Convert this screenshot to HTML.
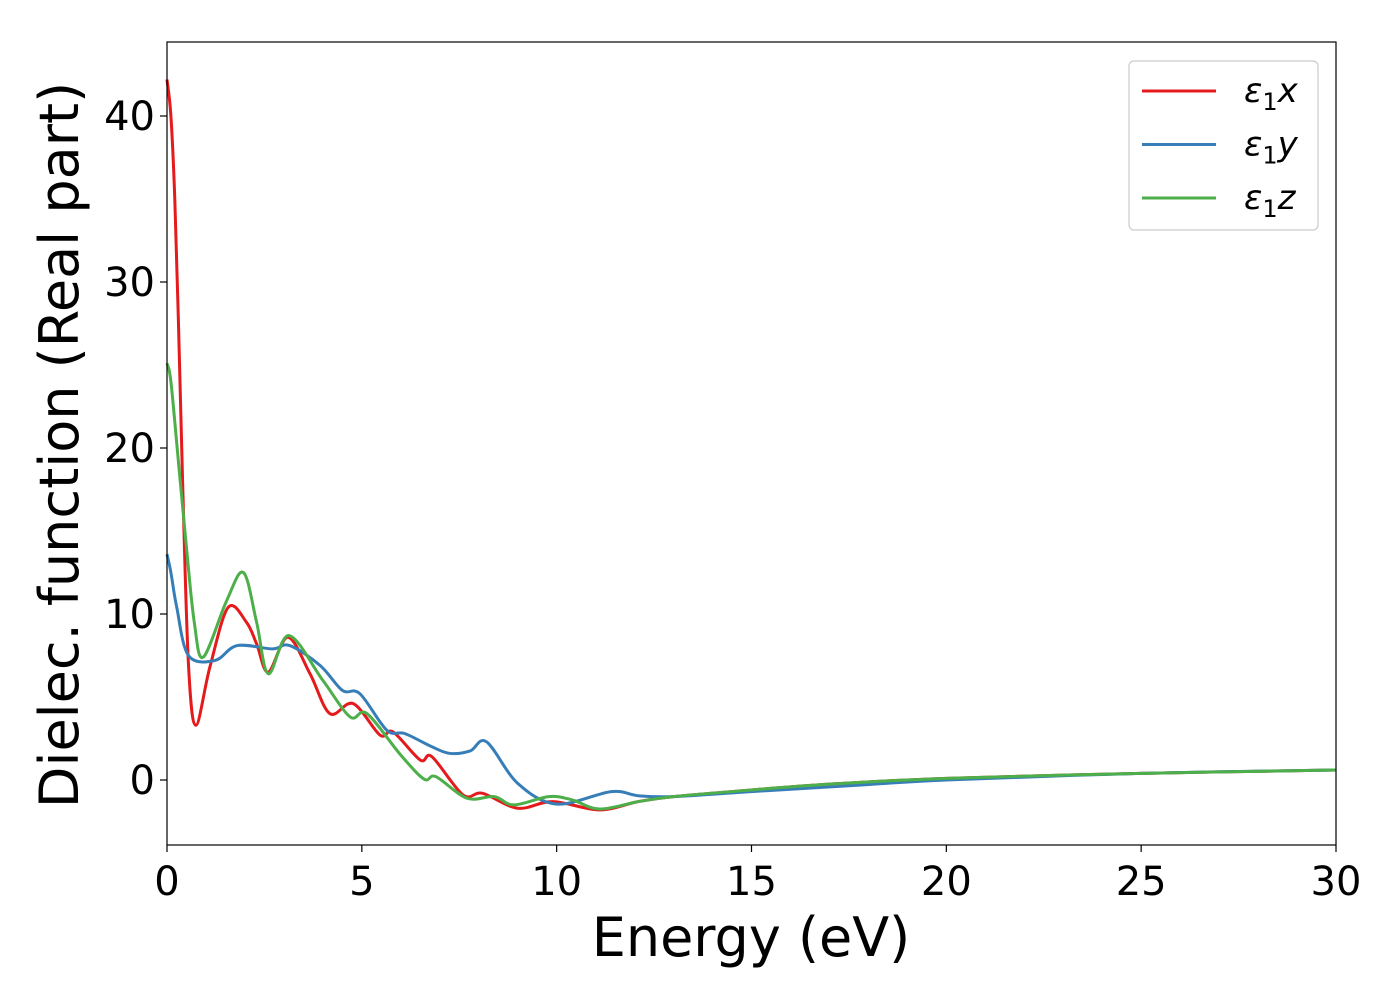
<!DOCTYPE html>
<html><head><meta charset="utf-8"><style>
body{margin:0;background:#fff}
svg{font-family:"DejaVu Sans","Liberation Sans",sans-serif}
</style></head><body>
<svg id="chart" width="1400" height="1000" xmlns="http://www.w3.org/2000/svg">
<rect width="1400" height="1000" fill="#fff"/>
<g id="plot"></g>
<g id="axes"></g>
</svg>
<script>
const seriesNames=["ε1x","ε1y","ε1z"];
const seriesColors=["#e41a1c","#377eb8","#4daf4a"];
const xTicks=[0,5,10,15,20,25,30];
const yTicks=[0,10,20,30,40];
const redX=[0,0.1,0.2,0.3,0.4,0.55,0.74,1.1,1.57,2.04,2.3,2.6,3.1,3.67,4.18,4.78,5.47,5.8,6.5,6.8,7.6,8.1,9.0,9.9,11.1,12.1,13,15,17,20,25,30];
const redY=[42.2,40,35,27,18,7,3.3,6.8,10.4,9.5,8.2,6.5,8.6,6.4,4.0,4.6,2.7,2.9,1.2,1.4,-0.9,-0.8,-1.7,-1.3,-1.8,-1.3,-1.0,-0.6,-0.25,0.1,0.4,0.6];
const blueX=[0,0.1,0.25,0.55,1.23,1.8,2.7,3.15,3.93,4.5,4.95,5.64,6.1,6.8,7.26,7.78,8.2,9.0,10.0,11.4,12.1,13,15,17.5,20,25,30];
const blueY=[13.6,12.5,10.4,7.5,7.2,8.1,7.9,8.1,6.9,5.4,5.2,3.0,2.8,2.0,1.6,1.75,2.3,-0.2,-1.45,-0.7,-0.95,-1.0,-0.7,-0.35,0.0,0.4,0.6];
const greenX=[0,0.1,0.3,0.5,0.7,0.93,1.53,1.96,2.3,2.6,3.13,4.0,4.7,5.13,6.0,6.6,6.9,7.7,8.4,8.9,9.8,10.4,11.1,12.1,13,15,17,20,25,30];
const greenY=[25.1,24,19,14,9.5,7.4,10.8,12.5,9.5,6.4,8.7,6.0,3.8,4.0,1.5,0.05,0.2,-1.1,-1.0,-1.5,-1.0,-1.2,-1.75,-1.3,-1.0,-0.6,-0.25,0.1,0.4,0.6];
const L=167,R=1336,T=42,B=845;
const sx=v=>L+(v-0)*(R-L)/30;
const sy=v=>780-v*16.6;
const NS="http://www.w3.org/2000/svg";
function mk(t,a,p){const e=document.createElementNS(NS,t);for(const k in a)e.setAttribute(k,a[k]);p.appendChild(e);return e;}
function path(xs,ys){
  const P=xs.map((x,i)=>[sx(x),sy(ys[i])]);
  let d="M"+P[0][0]+","+P[0][1];
  for(let i=0;i<P.length-1;i++){
    const p0=P[Math.max(0,i-1)],p1=P[i],p2=P[i+1],p3=P[Math.min(P.length-1,i+2)];
    const c1=[p1[0]+(p2[0]-p0[0])/6,p1[1]+(p2[1]-p0[1])/6];
    const c2=[p2[0]-(p3[0]-p1[0])/6,p2[1]-(p3[1]-p1[1])/6];
    if(c1[0]<p1[0])c1[0]=p1[0]; if(c2[0]>p2[0])c2[0]=p2[0];
    d+=" C"+c1[0]+","+c1[1]+" "+c2[0]+","+c2[1]+" "+p2[0]+","+p2[1];
  }
  return d;
}
const plot=document.getElementById('plot');
const axes=document.getElementById('axes');
const data=[[redX,redY],[blueX,blueY],[greenX,greenY]];
const order=[0,1,2];
order.forEach(i=>{
  const p=mk('path',{d:path(data[i][0],data[i][1]),fill:'none',stroke:seriesColors[i],'stroke-width':3},plot);
  
  
});
const frame=mk('rect',{x:L,y:T,width:R-L,height:B-T,fill:'none',stroke:'#000','stroke-width':1.2},axes);


xTicks.forEach(v=>{
  mk('line',{x1:sx(v),x2:sx(v),y1:B,y2:B+7,stroke:'#000','stroke-width':1.2},axes);
  const t=mk('text',{x:sx(v),y:B+50,'font-size':40,'text-anchor':'middle'},axes);
  t.textContent=v;
  
  
});
yTicks.forEach(v=>{
  mk('line',{x1:L-7,x2:L,y1:sy(v),y2:sy(v),stroke:'#000','stroke-width':1.2},axes);
  const t=mk('text',{x:L-12,y:sy(v)+14,'font-size':40,'text-anchor':'end'},axes);
  t.textContent=v;
  
  
});
const xl=mk('text',{x:751,y:956,'font-size':54,'text-anchor':'middle'},axes);
xl.textContent='Energy (eV)';


const yl=mk('text',{x:0,y:0,'font-size':54,'text-anchor':'middle',transform:'translate(78,445) rotate(-90)'},axes);
yl.textContent='Dielec. function (Real part)';


const lg=mk('g',{},axes);


mk('rect',{x:1129,y:61,width:189,height:169,rx:5,fill:'#fff',stroke:'#ccc','stroke-width':1.2},lg);
const subs=['x','y','z'];
[0,1,2].forEach(i=>{
  const y=91+i*53.5;
  mk('line',{x1:1142,x2:1216,y1:y,y2:y,stroke:seriesColors[i],'stroke-width':3},lg);
  const t=mk('text',{x:1244,y:y+11,'font-size':34,'font-style':'italic'},lg);
  
  
  t.innerHTML='ε<tspan font-style="normal" font-size="24" dy="8">1</tspan><tspan dy="-8">'+subs[i]+'</tspan>';
});
</script>
</body></html>
